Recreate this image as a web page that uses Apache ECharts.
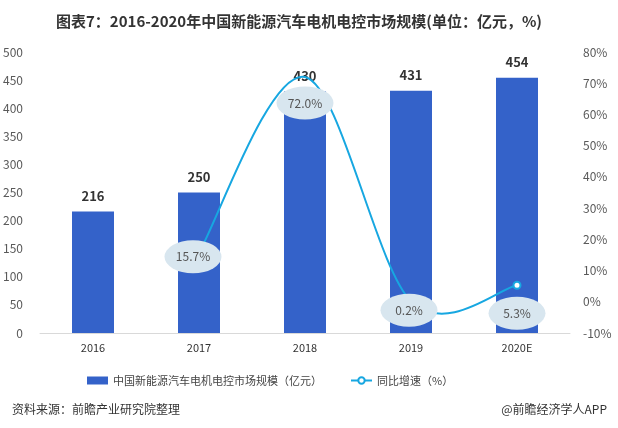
<!DOCTYPE html>
<html><head><meta charset="utf-8">
<script src="https://cdn.jsdelivr.net/npm/echarts@6/dist/echarts.min.js"></script>
<style>html,body{margin:0;padding:0;background:#fff}#c{width:618px;height:428px}</style>
</head><body><div id="c"></div>
<script>
const categories = ['2016','2017','2018','2019','2020E'];
const marketSize = [216, 250, 430, 431, 454];
const growthRate = [null, 15.7, 72.0, 0.2, 5.3];
const leftTicks = {min:0, max:500, interval:50};
const rightTicks = {min:-10, max:80, interval:10};
const ellipseOffsets = [[0,0],[-6,4],[0,26],[-2,9],[0,28]];

const FONT = '"Noto Sans CJK SC","Noto Sans",sans-serif';
const BAR = '#3462c9';
const LINE = '#17a7e1';

// Catmull-Rom smoothed curve through the growth points, positioned by the axes
function renderCurve(params, api) {
  if (params.dataIndex !== 0) return null;
  const pts = [];
  growthRate.forEach((v, i) => { if (v != null) pts.push(api.coord([i, v])); });
  if (pts.length < 2) return null;
  let d = 'M' + pts[0][0] + ' ' + pts[0][1];
  for (let i = 0; i < pts.length - 1; i++) {
    const p0 = pts[i - 1] || pts[i], p1 = pts[i], p2 = pts[i + 1], p3 = pts[i + 2] || pts[i + 1];
    const c1x = p1[0] + (p2[0] - p0[0]) / 6, c1y = p1[1] + (p2[1] - p0[1]) / 6;
    const c2x = p2[0] - (p3[0] - p1[0]) / 6, c2y = p2[1] - (p3[1] - p1[1]) / 6;
    d += ' C' + c1x + ' ' + c1y + ' ' + c2x + ' ' + c2y + ' ' + p2[0] + ' ' + p2[1];
  }
  return {type:'path', shape:{pathData:d}, style:{fill:null, stroke:LINE, lineWidth:2}, silent:true};
}

const chart = echarts.init(document.getElementById('c'), null, {renderer:'canvas'});
chart.setOption({
  animation:false,
  textStyle:{fontFamily:FONT},
  title:[{
    text:'图表7：2016-2020年中国新能源汽车电机电控市场规模(单位：亿元，%)',
    left:294, top:9, textAlign:'center',
    textStyle:{fontSize:15, fontWeight:'bold', color:'#333', fontFamily:FONT}
  },{
    text:'资料来源：前瞻产业研究院整理', left:7, top:398,
    textStyle:{fontSize:12, fontWeight:'normal', color:'#333', fontFamily:FONT}
  },{
    text:'@前瞻经济学人APP', right:6, top:398,
    textStyle:{fontSize:12, fontWeight:'normal', color:'#333', fontFamily:FONT}
  }],
  legend:{
    left:82, top:370, itemGap:28, itemWidth:21, itemHeight:8,
    textStyle:{fontSize:11, color:'#444', fontFamily:FONT},
    data:[{name:'中国新能源汽车电机电控市场规模（亿元）', icon:'rect'},
          {name:'同比增速（%）', lineStyle:{opacity:1, color:LINE, width:2}}]
  },
  grid:{left:40, right:48, top:52, bottom:95},
  xAxis:{
    type:'category', data:categories,
    axisLine:{show:true, lineStyle:{color:'#d9d9d9'}},
    axisTick:{show:false},
    axisLabel:{fontSize:11, color:'#333', margin:9}
  },
  yAxis:[{
    type:'value', min:leftTicks.min, max:leftTicks.max, interval:leftTicks.interval,
    splitLine:{show:false}, axisLine:{show:false}, axisTick:{show:false},
    axisLabel:{fontSize:12, color:'#595959', margin:17}
  },{
    type:'value', min:rightTicks.min, max:rightTicks.max, interval:rightTicks.interval,
    splitLine:{show:false}, axisLine:{show:false}, axisTick:{show:false},
    axisLabel:{fontSize:12, color:'#595959', margin:13, formatter:'{value}%'}
  }],
  series:[{
    name:'中国新能源汽车电机电控市场规模（亿元）', type:'bar', data:marketSize,
    barWidth:42, itemStyle:{color:BAR}, z:1,
    label:{show:true, position:'top', distance:9, fontSize:13, fontWeight:'bold', color:'#333'}
  },{
    name:'curve', type:'custom', yAxisIndex:1, z:2, silent:true,
    renderItem:renderCurve, data:growthRate.map((v,i)=>[i, v==null?0:v]),
    encode:{x:0, y:1}, tooltip:{show:false}
  },{
    name:'同比增速（%）', type:'line', yAxisIndex:1, z:3,
    symbol:'emptyCircle', symbolSize:7, showSymbol:true,
    data: growthRate.map((v,i)=>({value:v, symbol: i===growthRate.length-1 ? 'emptyCircle' : 'none'})),
    lineStyle:{color:LINE, width:2, opacity:0}, itemStyle:{color:LINE, borderWidth:1.5}
  },{
    name:'labels', type:'scatter', yAxisIndex:1, z:4,
    symbol:'circle', symbolSize:[57,33],
    data: growthRate.map((v,i)=> v==null ? null : ({value:v, symbolOffset:ellipseOffsets[i]})),
    itemStyle:{color:'#d8e6ef', opacity:1},
    label:{show:true, position:'inside', fontSize:12, color:'#555',
      formatter:p=>p.value.toFixed(1)+'%'},
    emphasis:{disabled:true}, silent:true
  }]
});
</script></body></html>
